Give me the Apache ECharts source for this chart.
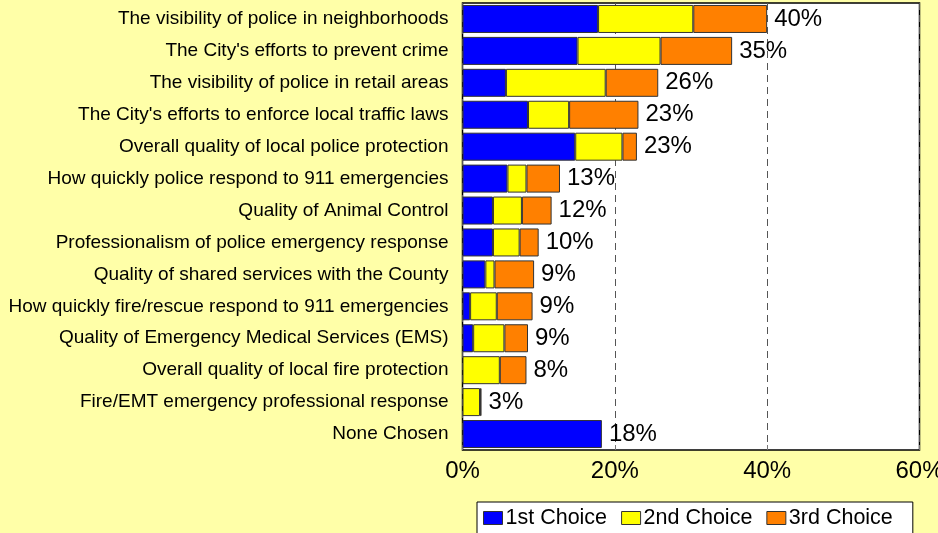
<!DOCTYPE html>
<html>
<head>
<meta charset="utf-8">
<script src="https://cdn.jsdelivr.net/npm/echarts@6/dist/echarts.min.js"></script>
<style>
  html, body { margin: 0; padding: 0; background: #FFFFA8; }
  #main { width: 938px; height: 533px; }
</style>
</head>
<body>
<div id="main"></div>
<script>
// categories, top to bottom
var categories = [
  'The visibility of police in neighborhoods',
  "The City's efforts to prevent crime",
  'The visibility of police in retail areas',
  "The City's efforts to enforce local traffic laws",
  'Overall quality of local police protection',
  'How quickly police respond to 911 emergencies',
  'Quality of Animal Control',
  'Professionalism of police emergency response',
  'Quality of shared services with the County',
  'How quickly fire/rescue respond to 911 emergencies',
  'Quality of Emergency Medical Services (EMS)',
  'Overall quality of local fire protection',
  'Fire/EMT emergency professional response',
  'None Chosen'
]
var firstChoice = [17.8, 15.1, 5.7, 8.6, 14.8, 5.9, 4.0, 4.0, 3.0, 1.0, 1.4, 0, 0, 18.3]
var secondChoice = [12.5, 10.9, 13.1, 5.4, 6.2, 2.5, 3.8, 3.5, 1.2, 3.5, 4.1, 4.9, 2.3, 0]
var thirdChoice = [9.7, 9.4, 6.9, 9.1, 1.9, 4.4, 3.9, 2.5, 5.2, 4.7, 3.1, 3.5, 0.2, 0]
var totals = [40, 35, 26, 23, 23, 13, 12, 10, 9, 9, 9, 8, 3, 18]
var xTicks = [0, 20, 40, 60]

var FONT = 'Liberation Sans, Arial, sans-serif'

// zero segments are left empty so no border line is drawn
function seg(arr) {
  return arr.map(function (v) { return v === 0 ? null : v })
}

function barSeries(name, data, color) {
  return {
    name: name,
    type: 'bar',
    stack: 'total',
    barWidth: 28,
    data: seg(data),
    itemStyle: { color: color, borderColor: '#333', borderWidth: 1 },
    emphasis: { disabled: true }
  }
}

var chart = echarts.init(document.getElementById('main'))
chart.setOption({
  backgroundColor: '#FFFFA8',
  animation: false,
  textStyle: { fontFamily: FONT },
  grid: {
    left: 462.5,
    right: 18.5,
    top: 3,
    bottom: 83,
    containLabel: false,
    outerBoundsMode: 'none',
    show: true,
    backgroundColor: '#fff',
    borderColor: '#000',
    borderWidth: 1.5
  },
  legend: {
    data: ['1st Choice', '2nd Choice', '3rd Choice'],
    left: 477,
    top: 502,
    orient: 'horizontal',
    icon: 'rect',
    backgroundColor: '#fff',
    borderColor: '#000',
    borderWidth: 1,
    borderRadius: 0,
    padding: [5, 20, 12, 6],
    itemWidth: 19,
    itemHeight: 13,
    itemGap: 14,
    textStyle: { fontSize: 21.5, color: '#000', fontFamily: FONT, padding: [0, 0, 0, -2] },
    itemStyle: { borderColor: '#333', borderWidth: 1 }
  },
  xAxis: {
    type: 'value',
    min: xTicks[0],
    max: xTicks[xTicks.length - 1],
    interval: 20,
    axisLine: { show: false },
    axisTick: { show: true, inside: true, length: 5, lineStyle: { color: '#777' } },
    axisLabel: { formatter: '{value}%', fontSize: 24, color: '#000', margin: 9, fontFamily: FONT },
    splitLine: { show: true, lineStyle: { color: '#555', type: [7, 5], width: 1 } }
  },
  yAxis: {
    type: 'category',
    inverse: true,
    data: categories,
    axisLine: { show: false },
    axisTick: { show: false },
    axisLabel: { fontSize: 19, color: '#000', margin: 14, fontFamily: FONT }
  },
  series: [
    barSeries('1st Choice', firstChoice, '#0000FF'),
    barSeries('2nd Choice', secondChoice, '#FFFF00'),
    barSeries('3rd Choice', thirdChoice, '#FF8000'),
    {
      name: 'Total',
      type: 'bar',
      stack: 'total',
      barWidth: 28,
      data: totals.map(function () { return 0 }),
      itemStyle: { color: 'transparent' },
      label: {
        show: true,
        position: 'right',
        distance: 7,
        fontSize: 24,
        color: '#000',
        fontFamily: FONT,
        formatter: function (p) { return totals[p.dataIndex] + '%' }
      },
      emphasis: { disabled: true }
    }
  ]
})
</script>
</body>
</html>
